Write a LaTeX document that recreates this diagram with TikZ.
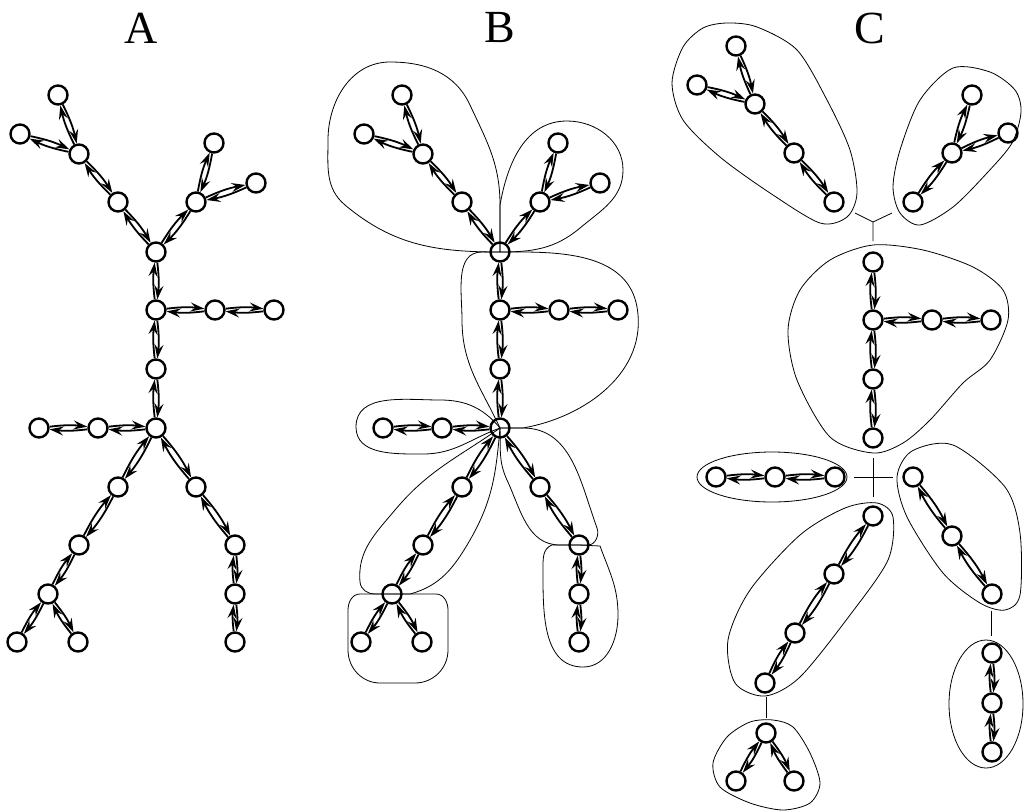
\documentclass[tikz,border=0pt]{standalone}
\usepackage{fontspec}
\setmainfont{Liberation Serif}
\usetikzlibrary{arrows.meta}

\tikzset{
  unit/.style={circle,draw,line width=2.4pt,minimum size=19pt,inner sep=0pt},
  link/.style={line width=1.8pt,-{Stealth[length=14pt,width=9pt,inset=5pt]}},
  hull/.style={line width=0.8pt},
  panel/.style={font=\fontsize{46}{50}\selectfont},
}
% a pair of opposite arrows between two units
\newcommand\twoway[2]{\draw[link] (#1) to[bend left=7] (#2); \draw[link] (#2) to[bend left=7] (#1);}
% the tree of panels A and B, #1 = name prefix, #2 = x offset
\newcommand\skeleton[2]{%
  \foreach \i/\x/\y in {1/58/95, 2/20/134, 3/79/154, 4/118/202, 5/156/252,
      6/214/143, 7/256/183, 8/196/202, 9/156/310, 10/215/310, 11/274/310,
      12/156/369, 13/156/428, 14/98/428, 15/39/428, 16/118/487, 17/79/545,
      18/48/594, 19/17/642, 20/78/642, 21/196/487, 22/235/545, 23/235/594,
      24/235/642}
    \node[unit] (#1\i) at (\x+#2,-\y) {};
  \foreach \u/\v in {1/3, 2/3, 3/4, 4/5, 6/8, 7/8, 8/5, 5/9, 9/10, 10/11, 9/12,
      12/13, 13/14, 14/15, 13/16, 16/17, 17/18, 18/19, 18/20, 13/21, 21/22,
      22/23, 23/24}
    {\twoway{#1\u}{#1\v}}
}

\begin{document}
\begin{tikzpicture}[x=1pt,y=1pt]
\useasboundingbox (0,0) rectangle (1024,-811);

\node[panel] (ta) at (141,-28) {A};
\node[panel] (tb) at (500,-28) {B};
\node[panel] (tc) at (870,-28) {C};

% panel A
\skeleton{a}{0}

% panel B
\skeleton{b}{344}

\draw[hull] (b5.center) to[out=180,in=-40] (345,-205) to[out=140,in=-90] (328,-140)
  to[out=90,in=180] (390,-62) to[out=0,in=115] (470,-105) to[out=-65,in=90] (500,-205) -- (b5.center);
\draw[hull] (b5.center) -- (500,-205) to[out=80,in=180] (567,-121) to[out=0,in=90] (623,-170)
  to[out=-90,in=40] (580,-228) to[out=220,in=0] (b5.center);
\draw[hull] (b5.center) -- (520,-252) to[out=0,in=100] (637,-307) to[out=-80,in=10] (523,-428)
  -- (b13.center) to[out=115,in=-90] (462,-320) to[out=90,in=180] (482,-252) -- cycle;
\draw[hull] (b13.center) to[out=130,in=0] (440,-400) to[out=180,in=90] (356,-427)
  to[out=-90,in=180] (423,-454) to[out=0,in=200] (b13.center);
\draw[hull] (b13.center) to[out=215,in=50] (395,-510) to[out=230,in=95] (360,-582)
  to[out=-85,in=180] (375,-594) -- (b18.center) -- (410,-594) to[out=15,in=240] (470,-540)
  to[out=60,in=265] (b13.center);
\draw[hull] (b13.center) -- (523,-428) to[out=0,in=110] (597,-528) to[out=-70,in=0] (588,-545)
  -- (b22.center) -- (560,-545) to[out=180,in=-65] (507,-480) to[out=115,in=-88] (b13.center);
\draw[hull] (b18.center) -- (360,-594) to[out=180,in=90] (348,-610) -- (348,-650)
  to[out=-90,in=180] (380,-683) -- (415,-683) to[out=0,in=-90] (448,-650) -- (448,-610)
  to[out=90,in=0] (436,-594) -- cycle;
\draw[hull] (b22.center) -- (552,-545) to[out=200,in=90] (543,-570) to[out=-90,in=180] (583,-667)
  to[out=0,in=-90] (618,-615) to[out=90,in=-70] (600,-546) -- cycle;

% panel C
\foreach \i/\x/\y in {1/736/46, 2/697/85, 3/755/104, 4/794/153, 5/834/202,
    6/972/95, 7/1008/133, 8/952/153, 9/913/202, 10/873/262, 11/873/320,
    12/932/320, 13/991/320, 14/873/379, 15/873/438, 16/716/477, 17/775/477,
    18/835/477, 19/913/477, 20/952/536, 21/992/594, 22/873/516, 23/834/574,
    24/795/633, 25/765/683, 26/766/733, 27/736/781, 28/794/781, 29/992/653,
    30/992/703, 31/992/752}
  \node[unit] (c\i) at (\x,-\y) {};
\foreach \u/\v in {1/3, 2/3, 3/4, 4/5, 6/8, 7/8, 8/9, 10/11, 11/12, 12/13,
    11/14, 14/15, 16/17, 17/18, 19/20, 20/21, 22/23, 23/24, 24/25, 26/27,
    26/28, 29/30, 30/31}
  {\twoway{c\u}{c\v}}

\draw[hull] plot[smooth cycle] coordinates {(727,-23) (757,-27) (797,-50) (827,-100) (850,-150)
  (857,-193) (847,-217) (820,-223) (770,-193) (720,-157) (683,-120) (672,-83) (683,-47) (703,-28)};
\draw[hull] plot[smooth cycle] coordinates {(953,-68) (990,-72) (1015,-90) (1021,-112) (1012,-143)
  (987,-173) (953,-207) (920,-225) (900,-213) (893,-187) (900,-150) (920,-100)};
\draw[hull] plot[smooth cycle] coordinates {(873,-245) (923,-250) (973,-267) (1003,-290) (1008,-320)
  (990,-360) (963,-383) (930,-420) (903,-443) (873,-453) (830,-437) (797,-380) (788,-330)
  (800,-290) (830,-260)};
\draw[hull] (772,-477) ellipse [x radius=75,y radius=25];
\draw[hull] plot[smooth cycle] coordinates {(953,-445) (1005,-487) (1020,-533) (1020,-595)
  (1005,-610) (980,-603) (943,-573) (907,-517) (897,-477) (912,-451)};
\draw[hull] plot[smooth cycle] coordinates {(877,-503) (893,-517) (888,-560) (850,-615) (800,-677)
  (765,-696) (735,-683) (728,-640) (750,-590) (800,-535) (845,-508)};
\draw[hull] plot[smooth cycle] coordinates {(773,-720) (793,-727) (810,-753) (820,-783) (810,-803)
  (783,-810) (750,-803) (720,-787) (713,-763) (727,-737) (750,-722)};
\draw[hull] (986,-704) ellipse [x radius=37,y radius=64];

% links between the groups of C
\coordinate (fork) at (873,-222);
\coordinate (fork-l) at (855,-213);
\coordinate (fork-r) at (892,-213);
\coordinate (fork-d) at (873,-241);
\draw[hull] (fork-l) -- (fork) -- (fork-r) (fork) -- (fork-d);
\coordinate (cross-n) at (873,-458);
\coordinate (cross-s) at (873,-497);
\coordinate (cross-w) at (854,-477);
\coordinate (cross-e) at (893,-477);
\draw[hull] (cross-n) -- (cross-s) (cross-w) -- (cross-e);
\coordinate (stem-a) at (766,-697);
\coordinate (stem-b) at (766,-718);
\draw[hull] (stem-a) -- (stem-b);
\coordinate (stem-c) at (991,-611);
\coordinate (stem-d) at (991,-636);
\draw[hull] (stem-c) -- (stem-d);
\end{tikzpicture}
\end{document}
